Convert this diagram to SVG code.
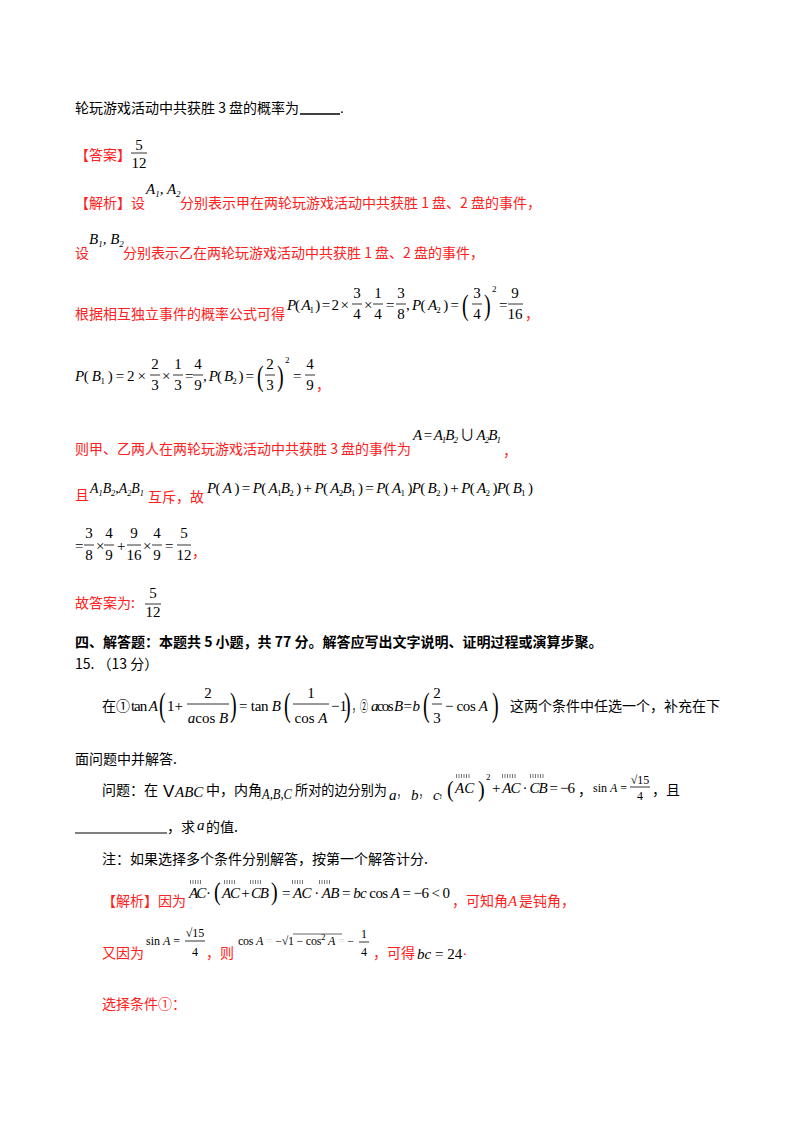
<svg xmlns="http://www.w3.org/2000/svg" width="800" height="1132" viewBox="0 0 800 1132">
<style>
text{font-family:"Liberation Serif","Noto Sans CJK SC",serif;font-size:15px;fill:#000}
.cn{font-family:"Noto Sans CJK SC","Noto Serif CJK SC",sans-serif;font-size:14px}
.r{fill:#ff2020}
.i{font-style:italic}
.s{font-size:9px}
.f{text-anchor:middle}
.b{font-weight:bold}
line{stroke:#000;stroke-width:0.8}
.t{stroke:#777;stroke-width:4;stroke-dasharray:1 1.5;fill:none}
.p{font-size:20px;font-family:"Liberation Serif",serif}
</style>
<rect width="800" height="1132" fill="#fff"/>
<g id="l1"><text x="75" y="113" class="cn">轮玩游戏活动中共获胜 3 盘的概率为</text><line x1="300" y1="114" x2="340" y2="114" style="stroke-width:1.5"/><text x="340" y="113">.</text></g>
<g id="ans"><text x="75" y="160" class="cn r">【答案】</text><text x="139" y="150" class="f">5</text><line x1="131" y1="153" x2="147" y2="153"/><text x="139" y="168" class="f">12</text></g>
<g id="l3"><text x="75" y="208" class="cn r">【解析】设</text><text x="146" y="194" class="i">A<tspan class="s" dy="3">1</tspan><tspan dy="-3">, </tspan>A<tspan class="s" dy="3">2</tspan></text><text x="180" y="208" class="cn r">分别表示甲在两轮玩游戏活动中共获胜 1 盘、2 盘的事件，</text></g>
<g id="l4"><text x="75" y="258" class="cn r">设</text><text x="89" y="244" class="i">B<tspan class="s" dy="3">1</tspan><tspan dy="-3">, </tspan>B<tspan class="s" dy="3">2</tspan></text><text x="123" y="258" class="cn r">分别表示乙在两轮玩游戏活动中共获胜 1 盘、2 盘的事件，</text></g>
<g id="l5"><text x="75" y="319" class="cn r">根据相互独立事件的概率公式可得</text>
<text x="287" y="310" textLength="62" lengthAdjust="spacing"><tspan class="i">P</tspan>( <tspan class="i">A</tspan><tspan class="s" dy="3">1</tspan><tspan dy="-3"> ) = 2 ×</tspan></text>
<text x="357" y="298" class="f">3</text><line x1="352" y1="304" x2="362" y2="304"/><text x="357" y="319" class="f">4</text>
<text x="364" y="310">×</text>
<text x="378" y="298" class="f">1</text><line x1="373" y1="304" x2="383" y2="304"/><text x="378" y="319" class="f">4</text>
<text x="386" y="310">=</text>
<text x="401" y="298" class="f">3</text><line x1="396" y1="304" x2="406" y2="304"/><text x="401" y="319" class="f">8</text>
<text x="406" y="310" textLength="53" lengthAdjust="spacing">, <tspan class="i">P</tspan>( <tspan class="i">A</tspan><tspan class="s" dy="3">2</tspan><tspan dy="-3"> ) =</tspan></text>
<text class="p" transform="translate(462,315) scale(1,1.5)">(</text><text x="477" y="298" class="f">3</text><line x1="472" y1="304" x2="482" y2="304"/><text x="477" y="319" class="f">4</text><text class="p" transform="translate(484,315) scale(1,1.5)">)</text><text x="492" y="292" class="s">2</text>
<text x="499" y="310">=</text>
<text x="515" y="298" class="f">9</text><line x1="508" y1="304" x2="523" y2="304"/><text x="515" y="319" class="f">16</text>
<text x="525" y="319" class="cn r">，</text></g>
<g id="l6"><text x="75" y="381" textLength="71" lengthAdjust="spacing"><tspan class="i">P</tspan>( <tspan class="i">B</tspan><tspan class="s" dy="3">1</tspan><tspan dy="-3"> ) = 2 ×</tspan></text>
<text x="155" y="369" class="f">2</text><line x1="150" y1="375" x2="160" y2="375"/><text x="155" y="390" class="f">3</text>
<text x="162" y="381">×</text>
<text x="178" y="369" class="f">1</text><line x1="173" y1="375" x2="183" y2="375"/><text x="178" y="390" class="f">3</text>
<text x="185" y="381">=</text>
<text x="198" y="369" class="f">4</text><line x1="193" y1="375" x2="203" y2="375"/><text x="198" y="390" class="f">9</text>
<text x="203" y="381" textLength="51" lengthAdjust="spacing">, <tspan class="i">P</tspan>( <tspan class="i">B</tspan><tspan class="s" dy="3">2</tspan><tspan dy="-3"> ) =</tspan></text>
<text class="p" transform="translate(257,386) scale(1,1.5)">(</text><text x="270" y="369" class="f">2</text><line x1="265" y1="375" x2="275" y2="375"/><text x="270" y="390" class="f">3</text><text class="p" transform="translate(277,386) scale(1,1.5)">)</text><text x="285" y="363" class="s">2</text>
<text x="293" y="381">=</text>
<text x="310" y="369" class="f">4</text><line x1="305" y1="375" x2="315" y2="375"/><text x="310" y="390" class="f">9</text>
<text x="316" y="390" class="cn r">，</text></g>
<g id="l7"><text x="75" y="454" class="cn r">则甲、乙两人在两轮玩游戏活动中共获胜 3 盘的事件为</text>
<text x="413" y="440" class="i" textLength="88" lengthAdjust="spacing">A <tspan font-style="normal">=</tspan> A<tspan class="s" dy="3">1</tspan><tspan dy="-3">B</tspan><tspan class="s" dy="3">2</tspan><tspan dy="-3" font-style="normal"> ∪ </tspan>A<tspan class="s" dy="3">2</tspan><tspan dy="-3">B</tspan><tspan class="s" dy="3">1</tspan></text>
<text x="503" y="456" class="cn r">，</text></g>
<g id="l8"><text x="75" y="500" class="cn r">且</text><text x="90" y="493" class="i" textLength="54" lengthAdjust="spacingAndGlyphs">A<tspan class="s" dy="3">1</tspan><tspan dy="-3">B</tspan><tspan class="s" dy="3">2</tspan><tspan dy="-3" font-style="normal">,</tspan>A<tspan class="s" dy="3">2</tspan><tspan dy="-3">B</tspan><tspan class="s" dy="3">1</tspan></text><text x="148" y="502" class="cn r">互斥，故</text>
<text x="207" y="493" textLength="326"><tspan class="i">P</tspan>( <tspan class="i">A</tspan> ) = <tspan class="i">P</tspan>( <tspan class="i">A</tspan><tspan class="s" dy="3">1</tspan><tspan class="i" dy="-3">B</tspan><tspan class="s" dy="3">2</tspan><tspan dy="-3"> ) + </tspan><tspan class="i">P</tspan>( <tspan class="i">A</tspan><tspan class="s" dy="3">2</tspan><tspan class="i" dy="-3">B</tspan><tspan class="s" dy="3">1</tspan><tspan dy="-3"> ) = </tspan><tspan class="i">P</tspan>( <tspan class="i">A</tspan><tspan class="s" dy="3">1</tspan><tspan dy="-3"> )</tspan><tspan class="i">P</tspan>( <tspan class="i">B</tspan><tspan class="s" dy="3">2</tspan><tspan dy="-3"> ) + </tspan><tspan class="i">P</tspan>( <tspan class="i">A</tspan><tspan class="s" dy="3">2</tspan><tspan dy="-3"> )</tspan><tspan class="i">P</tspan>( <tspan class="i">B</tspan><tspan class="s" dy="3">1</tspan><tspan dy="-3"> )</tspan></text></g>
<g id="l9"><text x="75" y="551">=</text>
<text x="89" y="538" class="f">3</text><line x1="84" y1="545" x2="94" y2="545"/><text x="89" y="560" class="f">8</text>
<text x="96" y="551">×</text>
<text x="109" y="538" class="f">4</text><line x1="104" y1="545" x2="114" y2="545"/><text x="109" y="560" class="f">9</text>
<text x="117" y="551">+</text>
<text x="134" y="538" class="f">9</text><line x1="127" y1="545" x2="141" y2="545"/><text x="134" y="560" class="f">16</text>
<text x="143" y="551">×</text>
<text x="157" y="538" class="f">4</text><line x1="152" y1="545" x2="162" y2="545"/><text x="157" y="560" class="f">9</text>
<text x="165" y="551">=</text>
<text x="184" y="538" class="f">5</text><line x1="177" y1="545" x2="191" y2="545"/><text x="184" y="560" class="f">12</text>
<text x="192" y="557" class="cn r">，</text></g>
<g id="l10"><text x="75" y="608" class="cn r">故答案为:</text><text x="153" y="598" class="f">5</text><line x1="145" y1="604" x2="161" y2="604"/><text x="153" y="617" class="f">12</text></g>
<g id="l11"><text x="75" y="647" class="cn b">四、解答题：本题共 5 小题，共 77 分。解答应写出文字说明、证明过程或演算步聚。</text><text x="75" y="669" class="cn">15. （13 分）</text></g>
<g id="l12"><text x="102" y="711" class="cn">在①</text><text x="131" y="711" textLength="27" lengthAdjust="spacing">tan <tspan class="i">A</tspan></text>
<text class="p" transform="translate(159,716) scale(1,1.7)">(</text><text x="167" y="711">1+</text>
<text x="208" y="698" class="f">2</text><line x1="187" y1="704" x2="229" y2="704"/><text x="208" y="723" class="f"><tspan class="i">a</tspan>cos <tspan class="i">B</tspan></text>
<text class="p" transform="translate(230,716) scale(1,1.7)">)</text><text x="239" y="711" textLength="42" lengthAdjust="spacing">= tan <tspan class="i">B</tspan></text>
<text class="p" transform="translate(284,716) scale(1,1.7)">(</text><text x="311" y="698" class="f">1</text><line x1="293" y1="704" x2="329" y2="704"/><text x="311" y="723" class="f">cos <tspan class="i">A</tspan></text><text x="331" y="711">−1</text><text class="p" transform="translate(344,716) scale(1,1.7)">)</text>
<text x="352" y="711" class="cn" textLength="16" lengthAdjust="spacingAndGlyphs">，②</text><text x="371" y="711" textLength="49" lengthAdjust="spacing"><tspan class="i">a</tspan>cos <tspan class="i">B</tspan> = <tspan class="i">b</tspan></text>
<text class="p" transform="translate(423,716) scale(1,1.7)">(</text><text x="437" y="698" class="f">2</text><line x1="432" y1="704" x2="442" y2="704"/><text x="437" y="723" class="f">3</text><text x="445" y="711" textLength="43" lengthAdjust="spacing">− cos <tspan class="i">A</tspan></text><text class="p" transform="translate(492,716) scale(1,1.7)">)</text>
<text x="510" y="711" class="cn">这两个条件中任选一个，补充在下</text></g>
<g id="l13"><text x="75" y="764" class="cn">面问题中并解答.</text></g>
<g id="l14"><text x="102" y="795" class="cn">问题：在</text><text x="163" y="797" style="font-family:'Liberation Sans';font-size:17px">V</text><text x="175" y="797" class="i">ABC</text><text x="206" y="795" class="cn">中，内角</text><text x="262" y="799" class="i" textLength="30" lengthAdjust="spacingAndGlyphs">A,B,C</text><text x="295" y="795" class="cn" textLength="92" lengthAdjust="spacingAndGlyphs">所对的边分别为</text><text x="389" y="800" class="i">a</text><text x="397" y="797" class="cn" textLength="8" lengthAdjust="spacingAndGlyphs">，</text><text x="411" y="800" class="i">b</text><text x="419" y="797" class="cn" textLength="8" lengthAdjust="spacingAndGlyphs">，</text><text x="433" y="800" class="i">c</text><text x="439" y="797" class="cn" textLength="7" lengthAdjust="spacingAndGlyphs">，</text>
<text class="p" transform="translate(447,797) scale(1,1.2)">(</text><text x="455" y="793" class="i">AC</text><text class="p" transform="translate(478,797) scale(1,1.2)">)</text><text x="486" y="780" class="s">2</text>
<text x="492" y="793" textLength="83" lengthAdjust="spacing">+ <tspan class="i">AC</tspan> · <tspan class="i">CB</tspan> = −6</text>
<path class="t" d="M456 776h14M502 776h14M530 776h14"/>
<text x="578" y="795" class="cn">，</text><text x="593" y="792" style="font-size:12px">sin <tspan class="i">A</tspan> =</text><text x="640" y="784" class="f" style="font-size:12px">√15</text><line x1="630" y1="787" x2="650" y2="787"/><text x="640" y="800" class="f" style="font-size:12px">4</text><text x="652" y="795" class="cn">，且</text></g>
<g id="l15"><line x1="75" y1="833" x2="167" y2="833" style="stroke-width:1"/><text x="167" y="832" class="cn">，求</text><text x="197" y="830" class="i">a</text><text x="206" y="832" class="cn">的值.</text></g>
<g id="l16"><text x="102" y="864" class="cn">注：如果选择多个条件分别解答，按第一个解答计分.</text></g>
<g id="l17"><text x="102" y="906" class="cn r">【解析】因为</text>
<path class="t" d="M190 882h12M224 882h12M250 882h12M292 882h12M319 882h12"/>
<text x="189" y="898" textLength="22" lengthAdjust="spacing"><tspan class="i">AC</tspan> ·</text><text class="p" transform="translate(214,900) scale(1,1.3)">(</text><text x="222" y="898" textLength="47" lengthAdjust="spacing"><tspan class="i">AC</tspan> + <tspan class="i">CB</tspan></text><text class="p" transform="translate(271,900) scale(1,1.3)">)</text><text x="282" y="898" textLength="168" lengthAdjust="spacing">= <tspan class="i">AC</tspan> · <tspan class="i">AB</tspan> = <tspan class="i">bc</tspan> cos <tspan class="i">A</tspan> = −6 &lt; 0</text>
<text x="452" y="906" class="cn r">，可知角</text><text x="508" y="906" class="i r">A</text><text x="519" y="906" class="cn r">是钝角，</text></g>
<g id="l18"><text x="102" y="958" class="cn r">又因为</text><text x="146" y="945" style="font-size:12px" textLength="34" lengthAdjust="spacing">sin <tspan class="i">A</tspan> =</text><text x="195" y="937" class="f" style="font-size:12px">√15</text><line x1="185" y1="941" x2="205" y2="941"/><text x="195" y="956" class="f" style="font-size:12px">4</text>
<text x="206" y="958" class="cn r">，则</text><text x="238" y="945" style="font-size:12px" textLength="116" lengthAdjust="spacing">cos <tspan class="i">A</tspan><tspan fill="#ddd"> = </tspan>−√1 − cos<tspan dy="-5" class="s">2</tspan><tspan dy="5"> </tspan><tspan class="i">A</tspan><tspan fill="#ddd"> = </tspan>−</text>
<line x1="293" y1="934" x2="342" y2="934" style="stroke-width:0.6"/>
<text x="364" y="938" class="f" style="font-size:12px">1</text><line x1="359" y1="942" x2="369" y2="942"/><text x="364" y="956" class="f" style="font-size:12px">4</text>
<text x="373" y="958" class="cn r">，可得</text><text x="417" y="959"><tspan class="i">bc</tspan> = 24<tspan class="r">·</tspan></text></g>
<g id="l19"><text x="102" y="1009" class="cn r">选择条件①：</text></g>
</svg>
